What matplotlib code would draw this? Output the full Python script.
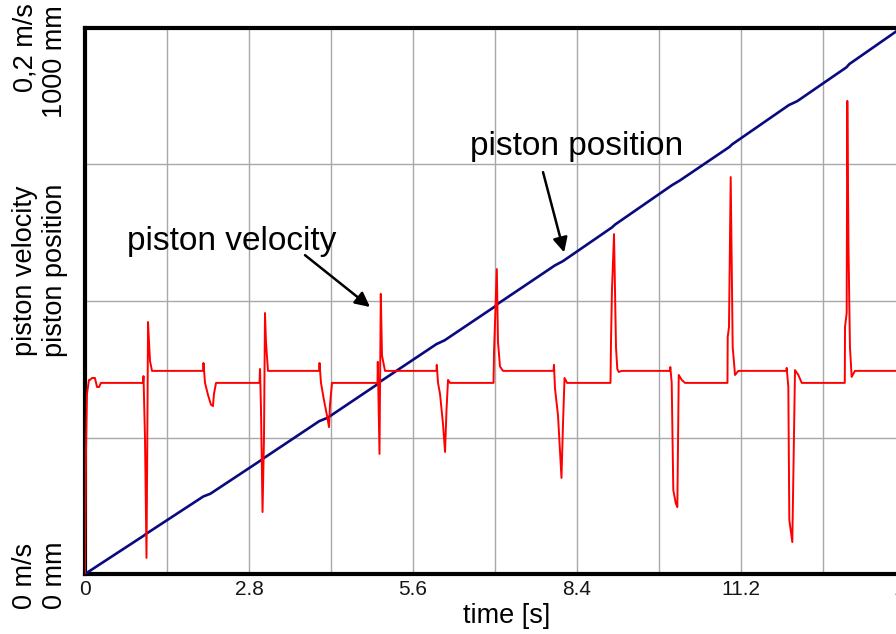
import matplotlib
matplotlib.use("Agg")
import matplotlib.pyplot as plt

plt.rcParams['font.family'] = ['Liberation Sans', 'DejaVu Sans']

# ---------------- data ----------------
# piston position [mm] vs time [s]
pos_t = [0, 1.0, 1.05, 2.02, 2.14, 3.0, 3.05, 4.0, 4.14, 5.0, 5.05, 6.0, 6.14,
         7.0, 7.05, 8.02, 8.16, 9.0, 9.05, 10.02, 10.16, 11.0, 11.05, 12.02,
         12.16, 13.0, 13.05, 14.0]
pos_mm = [0, 70, 74, 142, 147, 208, 212, 280, 286, 348, 353, 421, 428,
          490, 495, 565, 573, 635, 640, 712, 721, 782, 787, 859,
          866, 928, 934, 1005]

# piston velocity [m/s] vs time [s]
vel_t = [0, 0.017, 0.034, 0.068, 0.085, 0.12, 0.17, 0.205, 0.24, 0.273,
         0.990, 0.999, 1.024, 1.05, 1.067, 1.076, 1.093, 1.11, 1.144,
         2.015, 2.023, 2.049, 2.10, 2.151, 2.185, 2.202, 2.237,
         2.979, 2.988, 3.005, 3.031, 3.056, 3.073, 3.09, 3.124,
         3.995, 4.004, 4.029, 4.08, 4.132, 4.166, 4.183, 4.217,
         4.994, 4.999, 5.028, 5.05, 5.071, 5.122,
         6.0, 6.006, 6.027, 6.061, 6.112, 6.147, 6.172, 6.198, 6.232,
         6.975, 6.983, 7.031, 7.051, 7.085, 7.137,
         7.999, 8.007, 8.024, 8.076, 8.135, 8.161, 8.187, 8.23,
         8.972, 8.98, 8.997, 9.032, 9.066, 9.088, 9.112, 9.163,
         9.988, 9.993, 10.017, 10.044, 10.085, 10.113, 10.137, 10.188, 10.244,
         10.969, 10.973, 10.995, 11.024, 11.058, 11.098, 11.154,
         11.977, 11.98, 12.008, 12.025, 12.076, 12.122, 12.179, 12.237,
         12.972, 12.976, 13.004, 13.015, 13.035, 13.06, 13.089, 13.146, 14.0]
vel_v = [0, 0.045, 0.066, 0.0711, 0.0711, 0.0718, 0.0718, 0.0685, 0.0685, 0.0700,
         0.0700, 0.0725, 0.050, 0.0059, 0.060, 0.0923, 0.085, 0.078, 0.0744,
         0.0744, 0.0773, 0.070, 0.0656, 0.062, 0.0615, 0.066, 0.0700,
         0.0700, 0.0751, 0.060, 0.0227, 0.050, 0.0956, 0.085, 0.0744,
         0.0744, 0.0773, 0.070, 0.0637, 0.058, 0.0538, 0.062, 0.0700,
         0.0700, 0.0777, 0.0440, 0.1026, 0.080, 0.0744,
         0.0744, 0.0766, 0.070, 0.066, 0.055, 0.0447, 0.060, 0.0711, 0.0700,
         0.0700, 0.0813, 0.1117, 0.085, 0.076, 0.0744,
         0.0744, 0.0766, 0.068, 0.058, 0.0352, 0.055, 0.0718, 0.0700,
         0.0700, 0.0846, 0.1040, 0.1245, 0.083, 0.0751, 0.0740, 0.0744,
         0.0744, 0.0758, 0.0700, 0.0308, 0.026, 0.0245, 0.0729, 0.0711, 0.0700,
         0.0700, 0.0868, 0.0905, 0.1454, 0.0832, 0.0729, 0.0744,
         0.0744, 0.0755, 0.0685, 0.0198, 0.0117, 0.0747, 0.0729, 0.0700,
         0.0700, 0.0905, 0.0956, 0.1733, 0.120, 0.0832, 0.0722, 0.0744, 0.0744]

x_ticks = [0, 1.4, 2.8, 4.2, 5.6, 7.0, 8.4, 9.8, 11.2, 12.6, 14.0]
x_tick_labels = ['0', '', '2.8', '', '5.6', '', '8.4', '', '11.2', '', '14']
y_grid = [0, 250, 500, 750, 1000]

# ---------------- figure ----------------
W, H = 896, 634
fig = plt.figure(figsize=(W / 100, H / 100), dpi=100)
fig.patch.set_facecolor('white')

def fx(px):
    return px / W

def fy(py):
    return (H - py) / H

ax = fig.add_axes([fx(85), fy(574), (905 - 85) / W, (574 - 28) / H])
ax.set_xlim(0, 14)
ax.set_ylim(0, 1000)
ax.set_xticks(x_ticks)
ax.set_xticklabels(x_tick_labels)
ax.set_yticks(y_grid)
ax.set_yticklabels([])
ax.tick_params(axis='both', length=0, pad=4, labelsize=15, labelcolor='#151515')
ax.grid(True, color='#a8a8a8', linewidth=1.0)
ax.set_axisbelow(True)
for s in ax.spines.values():
    s.set_linewidth(3)
    s.set_color('black')

ax.plot(pos_t, pos_mm, color='#0a0a80', linewidth=1.9, zorder=3)

ax2 = ax.twinx()
ax2.set_ylim(0, 0.2)
ax2.set_yticks([])
for s in ax2.spines.values():
    s.set_visible(False)
ax2.plot(vel_t, vel_v, color='#ff0000', linewidth=1.4, zorder=4)

# annotations
ax.text(0.717, 593, 'piston velocity', fontsize=24, ha='left', va='baseline',
        color='black', zorder=6)
ax.annotate('', xy=(4.866, 489), xytext=(3.756, 584),
            arrowprops=dict(arrowstyle='-|>', color='black', lw=1.8,
                            mutation_scale=22, shrinkA=0, shrinkB=0))
ax.text(6.573, 767, 'piston position', fontsize=24, ha='left', va='baseline',
        color='black', zorder=6)
ax.annotate('', xy=(8.18, 589), xytext=(7.82, 736),
            arrowprops=dict(arrowstyle='-|>', color='black', lw=1.8,
                            mutation_scale=22, shrinkA=0, shrinkB=0))

# left labels
lab_fs = 19.5
fig.text(fx(25), fy(3), '0,2 m/s', rotation=90, ha='center', va='top', fontsize=lab_fs)
fig.text(fx(55), fy(5), '1000 mm', rotation=90, ha='center', va='top', fontsize=lab_fs)
fig.text(fx(25), fy(271), 'piston velocity', rotation=90, ha='center', va='center', fontsize=lab_fs)
fig.text(fx(55), fy(270), 'piston position', rotation=90, ha='center', va='center', fontsize=lab_fs)
fig.text(fx(25), fy(609), '0 m/s', rotation=90, ha='center', va='bottom', fontsize=lab_fs)
fig.text(fx(55), fy(609), '0 mm', rotation=90, ha='center', va='bottom', fontsize=lab_fs)

fig.text(fx(507), fy(623), 'time [s]', ha='center', va='baseline', fontsize=19.5)

fig.savefig('out.png', dpi=100, facecolor='white')
